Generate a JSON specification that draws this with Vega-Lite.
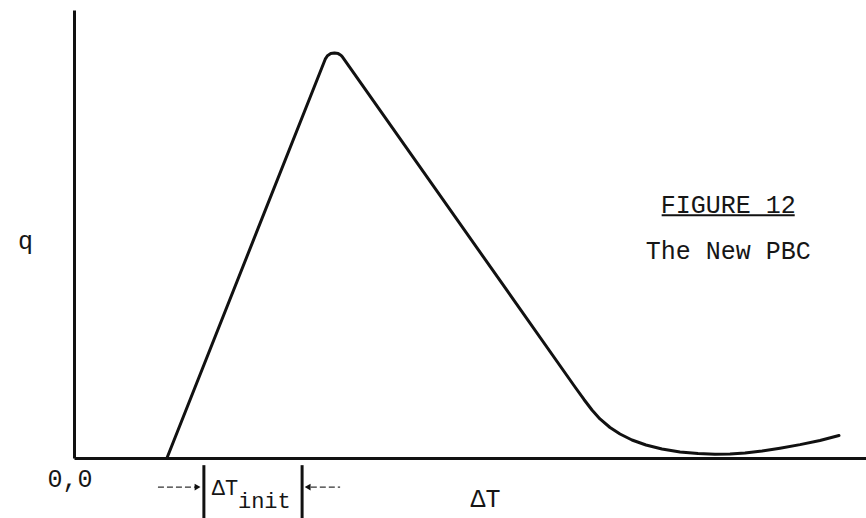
{
  "$schema": "https://vega.github.io/schema/vega-lite/v6.json",
  "width": 792,
  "height": 448,
  "autosize": {"type": "none"},
  "padding": {"left": 74, "top": 10, "right": 0, "bottom": 60},
  "background": "white",
  "config": {
    "view": {"stroke": null},
    "font": "Liberation Mono",
    "text": {"font": "Liberation Mono", "color": "#161616"}
  },
  "datasets": {
    "curve": [
      {"dT": 11.74, "q": 0.0},
      {"dT": 31.72, "q": 89.02},
      {"dT": 32.0, "q": 89.78},
      {"dT": 32.42, "q": 90.27},
      {"dT": 32.89, "q": 90.42},
      {"dT": 33.36, "q": 90.27},
      {"dT": 33.7, "q": 89.91},
      {"dT": 33.91, "q": 89.49},
      {"dT": 63.26, "q": 15.85},
      {"dT": 64.39, "q": 13.06},
      {"dT": 65.4, "q": 10.71},
      {"dT": 66.41, "q": 8.71},
      {"dT": 67.68, "q": 6.81},
      {"dT": 68.94, "q": 5.36},
      {"dT": 70.45, "q": 4.02},
      {"dT": 72.22, "q": 2.9},
      {"dT": 74.24, "q": 2.01},
      {"dT": 76.52, "q": 1.34},
      {"dT": 78.79, "q": 0.98},
      {"dT": 80.93, "q": 0.85},
      {"dT": 82.83, "q": 0.89},
      {"dT": 84.72, "q": 1.12},
      {"dT": 86.87, "q": 1.56},
      {"dT": 89.14, "q": 2.19},
      {"dT": 91.67, "q": 2.99},
      {"dT": 94.19, "q": 3.91},
      {"dT": 96.59, "q": 5.02}
    ],
    "caption": [
      {"x": 82.6, "y": 56.5, "text": "FIGURE 12"},
      {"x": 82.6, "y": 46.2, "text": "The New PBC"}
    ],
    "underline": [
      {"x": 74.2, "x2": 91.0, "y": 54.2}
    ],
    "bars": [
      {"x": 16.4, "y": -1.6, "y2": -13.4},
      {"x": 28.8, "y": -1.6, "y2": -13.4}
    ],
    "shafts": [
      {"x": 10.6, "x2": 15.4, "y": -6.5},
      {"x": 29.9, "x2": 33.6, "y": -6.5}
    ],
    "heads": [
      {"x": 15.6, "y": -6.5, "dir": "right"},
      {"x": 29.5, "y": -6.5, "dir": "left"}
    ],
    "init": [
      {"x": 17.4, "y": -6.7, "text": "ΔT"},
      {"x": 20.7, "y": -9.6, "text": "init"}
    ],
    "origin": [
      {"x": 0, "y": 0, "text": "0,0"}
    ]
  },
  "layer": [
    {
      "data": {"name": "curve"},
      "mark": {"type": "line", "interpolate": "linear", "color": "#111", "strokeWidth": 3, "strokeJoin": "round", "strokeCap": "round"},
      "encoding": {
        "x": {
          "field": "dT", "type": "quantitative",
          "scale": {"domain": [0, 100], "nice": false, "zero": false},
          "axis": {
            "title": "ΔT", "domain": true, "domainColor": "#111", "domainWidth": 3,
            "ticks": false, "labels": false, "grid": false,
            "titleFont": "Liberation Mono", "titleFontSize": 25, "titleFontWeight": "normal",
            "titleColor": "#161616", "titleX": 411, "titleY": 40,
            "titleAlign": "center", "titleBaseline": "middle"
          }
        },
        "y": {
          "field": "q", "type": "quantitative",
          "scale": {"domain": [0, 100], "nice": false, "zero": false},
          "axis": {
            "title": "q", "domain": true, "domainColor": "#111", "domainWidth": 3,
            "ticks": false, "labels": false, "grid": false,
            "titleFont": "Liberation Mono", "titleFontSize": 25, "titleFontWeight": "normal",
            "titleColor": "#161616", "titleAngle": 0, "titleX": -49, "titleY": 230,
            "titleAlign": "center", "titleBaseline": "middle"
          }
        }
      }
    },
    {
      "data": {"name": "caption"},
      "mark": {"type": "text", "fontSize": 25, "align": "center", "baseline": "middle"},
      "encoding": {
        "x": {"field": "x", "type": "quantitative"},
        "y": {"field": "y", "type": "quantitative"},
        "text": {"field": "text"}
      }
    },
    {
      "data": {"name": "underline"},
      "mark": {"type": "rule", "color": "#111", "strokeWidth": 2},
      "encoding": {
        "x": {"field": "x", "type": "quantitative"},
        "x2": {"field": "x2"},
        "y": {"field": "y", "type": "quantitative"}
      }
    },
    {
      "data": {"name": "bars"},
      "mark": {"type": "rule", "color": "#111", "strokeWidth": 3},
      "encoding": {
        "x": {"field": "x", "type": "quantitative"},
        "y": {"field": "y", "type": "quantitative"},
        "y2": {"field": "y2"}
      }
    },
    {
      "data": {"name": "shafts"},
      "mark": {"type": "rule", "color": "#333", "strokeWidth": 1.3, "strokeDash": [6, 3]},
      "encoding": {
        "x": {"field": "x", "type": "quantitative"},
        "x2": {"field": "x2"},
        "y": {"field": "y", "type": "quantitative"}
      }
    },
    {
      "data": {"name": "heads"},
      "mark": {"type": "point", "filled": true, "color": "#111", "size": 45, "opacity": 1},
      "encoding": {
        "x": {"field": "x", "type": "quantitative"},
        "y": {"field": "y", "type": "quantitative"},
        "shape": {
          "field": "dir", "type": "nominal",
          "scale": {"domain": ["right", "left"], "range": ["triangle-right", "triangle-left"]},
          "legend": null
        }
      }
    },
    {
      "data": {"name": "init"},
      "mark": {"type": "text", "fontSize": 22, "align": "left", "baseline": "middle"},
      "encoding": {
        "x": {"field": "x", "type": "quantitative"},
        "y": {"field": "y", "type": "quantitative"},
        "text": {"field": "text"}
      }
    },
    {
      "data": {"name": "origin"},
      "mark": {"type": "text", "fontSize": 25, "align": "center", "baseline": "middle", "dx": -4, "dy": 21},
      "encoding": {
        "x": {"field": "x", "type": "quantitative"},
        "y": {"field": "y", "type": "quantitative"},
        "text": {"field": "text"}
      }
    }
  ]
}
